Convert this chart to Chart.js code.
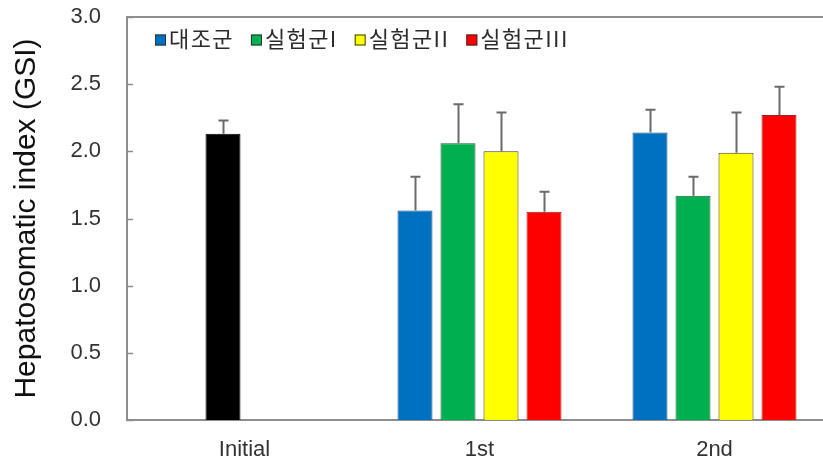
<!DOCTYPE html>
<html>
<head>
<meta charset="utf-8">
<script src="https://cdn.jsdelivr.net/npm/chart.js@4"></script>
<style>
  html, body { margin: 0; padding: 0; background: #fff; overflow: hidden; }
  #wrap { position: relative; width: 832px; height: 469px; }
</style>
</head>
<body>
<div id="wrap"><canvas id="chart"></canvas></div>
<script>
// Sampling times
const categories = ['Initial', '1st', '2nd'];

// Group names shown in the legend
const groupNames = ['대조군', '실험군I', '실험군II', '실험군III'];

// Mean hepatosomatic index per group (Initial sampling has only the pooled control)
const initialMean   = [2.13, null, null];
const controlMean   = [null, 1.56, 2.14];
const exp1Mean      = [null, 2.06, 1.67];
const exp2Mean      = [null, 2.00, 1.99];
const exp3Mean      = [null, 1.55, 2.27];

// Standard deviations (upper error bars)
const initialSd = [0.10, null, null];
const controlSd = [null, 0.25, 0.17];
const exp1Sd    = [null, 0.29, 0.14];
const exp2Sd    = [null, 0.29, 0.30];
const exp3Sd    = [null, 0.15, 0.21];

// Y axis ticks
const yTicks = [0.0, 0.5, 1.0, 1.5, 2.0, 2.5, 3.0];

const AXIS_GREY = '#8e8e8e';
const LEGEND_FONT = '22px "Noto Sans CJK KR", sans-serif';

// Upper-only error bars with caps
const errorBars = {
  id: 'errorBars',
  afterDatasetsDraw(chart) {
    const ctx = chart.ctx;
    const y = chart.scales.y;
    ctx.save();
    ctx.strokeStyle = '#6a6a6a';
    ctx.lineWidth = 2;
    chart.data.datasets.forEach((ds, di) => {
      const meta = chart.getDatasetMeta(di);
      if (!ds.errors) return;
      ds.data.forEach((v, i) => {
        const e = ds.errors[i];
        if (v === null || e === null || e === undefined) return;
        const bar = meta.data[i];
        const x = Math.round(bar.x) + 0.5;
        const y0 = y.getPixelForValue(v);
        const y1 = y.getPixelForValue(v + e);
        ctx.beginPath();
        ctx.moveTo(x, y0);
        ctx.lineTo(x, y1);
        ctx.moveTo(x - 5, y1);
        ctx.lineTo(x + 5, y1);
        ctx.stroke();
      });
    });
    ctx.restore();
  }
};

// Inward tick marks on the value axis and the top frame line
const frame = {
  id: 'frame',
  afterDraw(chart) {
    const ctx = chart.ctx;
    const a = chart.chartArea;
    const y = chart.scales.y;
    ctx.save();
    ctx.strokeStyle = AXIS_GREY;
    ctx.lineWidth = 2;
    ctx.beginPath();
    ctx.moveTo(a.left - 1, a.top);
    ctx.lineTo(a.right, a.top);
    ctx.stroke();
    ctx.lineWidth = 1.5;
    y.ticks.forEach(t => {
      const py = Math.round(y.getPixelForValue(t.value)) + 0.5;
      ctx.beginPath();
      ctx.moveTo(a.left, py);
      ctx.lineTo(a.left + 6, py);
      ctx.stroke();
    });
    ctx.restore();
  }
};

// Single-row legend drawn inside the plot, top left
const innerLegend = {
  id: 'innerLegend',
  afterDraw(chart) {
    const ctx = chart.ctx;
    const a = chart.chartArea;
    const box = 11, gap = 3, spacing = 17;
    let x = a.left + 28;
    const cy = a.top + 23;
    ctx.save();
    ctx.font = LEGEND_FONT;
    ctx.letterSpacing = '1.4px';
    ctx.textBaseline = 'middle';
    ctx.textAlign = 'left';
    chart.data.datasets.forEach((ds) => {
      if (!ds.inLegend) return;
      ctx.fillStyle = ds.backgroundColor;
      ctx.fillRect(x, cy - box / 2, box, box);
      ctx.strokeStyle = '#333';
      ctx.lineWidth = 1;
      ctx.strokeRect(x + 0.5, cy - box / 2 + 0.5, box - 1, box - 1);
      ctx.fillStyle = '#2b2b2b';
      ctx.fillText(ds.label, x + box + gap, cy - 1);
      x += box + gap + ctx.measureText(ds.label).width + spacing;
    });
    ctx.restore();
  }
};

function barSet(label, data, errors, fill, border, stack, inLegend) {
  return {
    label, data, errors, stack, inLegend,
    backgroundColor: fill,
    borderColor: border,
    borderWidth: 1,
    categoryPercentage: 0.732,
    barPercentage: 0.814
  };
}

new Chart(document.getElementById('chart'), {
  type: 'bar',
  data: {
    labels: categories,
    datasets: [
      barSet(groupNames[0], controlMean, controlSd, '#0070c0', '#1f4f80', 's1', true),
      barSet(groupNames[1], exp1Mean, exp1Sd, '#00b050', '#1d5b33', 's2', true),
      barSet(groupNames[2], exp2Mean, exp2Sd, '#ffff00', '#3c3c2a', 's3', true),
      barSet(groupNames[3], exp3Mean, exp3Sd, '#ff0000', '#a02020', 's4', true),
      barSet('Initial', initialMean, initialSd, '#000000', '#000000', 's2', false)
    ]
  },
  options: {
    responsive: true,
    maintainAspectRatio: false,
    animation: false,
    layout: { padding: { top: 17, right: 0, bottom: 0, left: 0 } },
    plugins: {
      tooltip: { enabled: false },
      legend: { display: false }
    },
    scales: {
      x: {
        grid: { display: false, drawTicks: false },
        border: { display: true, color: AXIS_GREY, width: 2 },
        ticks: {
          color: '#333',
          padding: 17,
          font: { family: '"Liberation Sans", Arial, sans-serif', size: 22 }
        },
        afterFit(scale) { scale.height = 49; }
      },
      y: {
        min: 0,
        max: 3,
        afterBuildTicks(scale) { scale.ticks = yTicks.map(v => ({ value: v })); },
        grid: { display: false, drawTicks: false },
        border: { display: true, color: AXIS_GREY, width: 2 },
        ticks: {
          color: '#333',
          padding: 26,
          font: { family: '"Liberation Sans", Arial, sans-serif', size: 22 },
          callback: (v) => Number(v).toFixed(1)
        },
        title: {
          display: true,
          text: 'Hepatosomatic index (GSI)',
          color: '#111',
          padding: { top: 9, bottom: 0 },
          font: { family: '"Liberation Sans", Arial, sans-serif', size: 30 }
        },
        afterFit(scale) {
          scale.width = 127;
          // the label padding only sets horizontal spacing here
          scale.paddingTop = 12;
          scale.paddingBottom = 12;
        }
      }
    }
  },
  plugins: [errorBars, frame, innerLegend]
});
</script>
</body>
</html>
